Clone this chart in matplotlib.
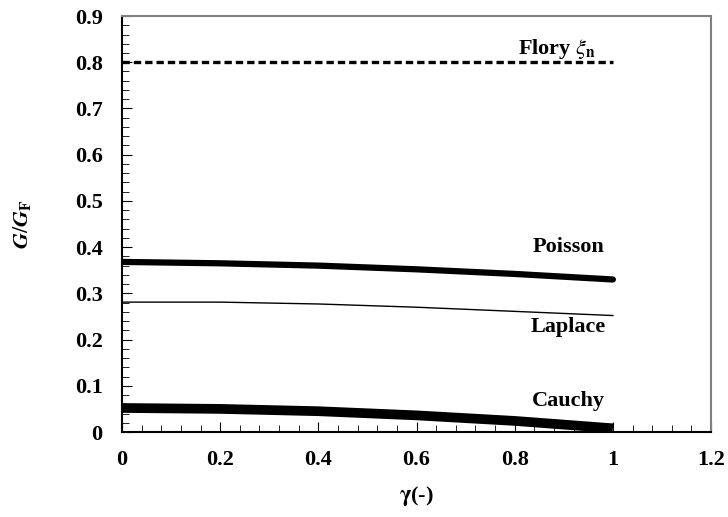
import matplotlib.pyplot as plt
from matplotlib.ticker import MultipleLocator

# data
gamma = [0.0, 0.2, 0.4, 0.6, 0.8, 1.0]
poisson = [0.368, 0.365, 0.360, 0.352, 0.342, 0.330]
laplace = [0.281, 0.281, 0.277, 0.270, 0.261, 0.252]
cauchy = [0.052, 0.050, 0.045, 0.036, 0.024, 0.008]
flory_x = [0.0, 1.0]
flory = [0.8, 0.8]

plt.rcParams['font.family'] = ['Liberation Serif', 'DejaVu Serif']
plt.rcParams['mathtext.fontset'] = 'stix'

fig = plt.figure(figsize=(7.28, 5.17), dpi=100)
ax = fig.add_axes([0.1676, 0.1644, 0.8091, 0.8046])

ax.plot(flory_x, flory, color='black', lw=2.4, ls=(0, (2.2, 1.2)))
ax.plot(gamma, poisson, color='black', lw=4.5, solid_capstyle='round')
ax.plot(gamma, laplace, color='black', lw=1)
ax.plot(gamma, cauchy, color='black', lw=7, solid_capstyle='butt')

lab = dict(fontsize=16, fontweight='bold', ha='center', va='center')
ax.text(0.885, 0.828, r'Flory $\xi_{\mathbf{n}}$', **lab)
ax.text(0.91, 0.40, 'Poisson', **lab)
ax.text(0.91, 0.227, 'Laplace', **lab)
ax.text(0.91, 0.067, 'Cauchy', **lab)

ax.set_xlim(0, 1.2)
ax.set_ylim(0, 0.9)
ax.xaxis.set_major_locator(MultipleLocator(0.2))
ax.xaxis.set_minor_locator(MultipleLocator(0.04))
ax.yaxis.set_major_locator(MultipleLocator(0.1))
ax.yaxis.set_minor_locator(MultipleLocator(0.02))
ax.xaxis.set_major_formatter(plt.FuncFormatter(lambda v, p: f'{v:g}'))
ax.yaxis.set_major_formatter(plt.FuncFormatter(lambda v, p: f'{v:g}'))
ax.tick_params(which='both', direction='in', top=False, right=False, labelsize=16, color='black')
ax.tick_params(axis='x', pad=13)
ax.tick_params(axis='y', pad=14)
ax.tick_params(which='major', length=7)
ax.tick_params(which='minor', length=5)
for t in ax.get_xticklabels() + ax.get_yticklabels():
    t.set_fontweight('bold')

for s in ['left', 'bottom']:
    ax.spines[s].set_linewidth(1.5)
for s in ['top', 'right']:
    ax.spines[s].set_color('#808080')
    ax.spines[s].set_linewidth(1.5)

ax.set_xlabel(r'$\mathbf{\gamma}$(-)', fontsize=16, fontweight='bold', labelpad=10)
ax.set_ylabel(r'$\boldsymbol{G}/\boldsymbol{G}_{\mathbf{F}}$', fontsize=16, labelpad=30)

fig.savefig('out.png', dpi=100)
